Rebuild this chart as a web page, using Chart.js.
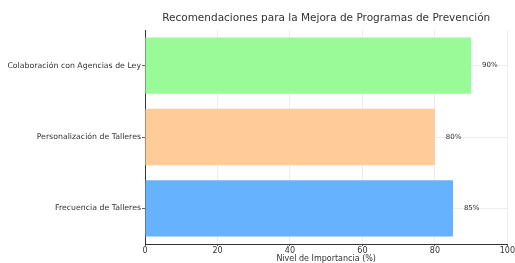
<!DOCTYPE html>
<html>
<head>
<meta charset="utf-8">
<script src="https://cdn.jsdelivr.net/npm/chart.js"></script>
<style>
  html, body { margin:0; padding:0; background:#fff; }
  #wrap { width:515px; height:263px; }
</style>
</head>
<body>
<div id="wrap"><canvas id="chart" width="515" height="263"></canvas></div>
<script>
const categories = ['Colaboración con Agencias de Ley', 'Personalización de Talleres', 'Frecuencia de Talleres'];
const values = [90, 80, 85];
const barColors = ['#98fb98', '#ffcc99', '#66b2ff'];
const xTicks = [0, 20, 40, 60, 80, 100];
const titleText = 'Recomendaciones para la Mejora de Programas de Prevención';
const xTitle = 'Nivel de Importancia (%)';

Chart.defaults.font.family = 'DejaVu Sans';
Chart.defaults.color = '#333';

const valueLabels = {
  id: 'valueLabels',
  afterDatasetsDraw(chart) {
    const ctx = chart.ctx;
    const xs = chart.scales.x, ys = chart.scales.y;
    ctx.save();
    ctx.font = '7px DejaVu Sans';
    ctx.fillStyle = '#333';
    ctx.textAlign = 'left';
    ctx.textBaseline = 'middle';
    values.forEach((v, i) => {
      ctx.fillText(v + '%', xs.getPixelForValue(v + 3), ys.getPixelForValue(i));
    });
    // title centred over the plot area
    const a = chart.chartArea;
    ctx.font = '10.5px DejaVu Sans';
    ctx.textAlign = 'center';
    ctx.fillText(titleText, (a.left + a.right) / 2, 18);
    ctx.restore();
  }
};

new Chart(document.getElementById('chart'), {
  type: 'bar',
  data: {
    labels: categories,
    datasets: [{
      data: values,
      backgroundColor: barColors,
      barPercentage: 0.79,
      categoryPercentage: 1
    }]
  },
  options: {
    indexAxis: 'y',
    responsive: false,
    animation: false,
    layout: { padding: { top: 30, right: 6, left: 0, bottom: 0 } },
    plugins: { legend: { display: false }, tooltip: { enabled: false } },
    scales: {
      x: {
        min: 0, max: 100,
        afterBuildTicks(s) { s.ticks = xTicks.map(v => ({ value: v })); },
        afterFit(s) { s.height = 19; },
        grid: { color: '#e8e8e8', lineWidth: 0.8, tickLength: 2, tickColor: '#333' },
        border: { color: '#333', width: 1 },
        ticks: { font: { size: 8 }, padding: 0, color: '#333', maxRotation: 0 },
        title: { display: true, text: xTitle, font: { size: 8 }, padding: { top: 0, bottom: -1 }, color: '#333' }
      },
      y: {
        afterFit(s) { s.width = 145; },
        grid: { offset: false, color: '#e8e8e8', lineWidth: 0.8, tickLength: 3, tickColor: '#333' },
        border: { color: '#333', width: 1 },
        ticks: { font: { size: 7.8 }, padding: 1, color: '#333' }
      }
    }
  },
  plugins: [valueLabels]
});
</script>
</body>
</html>
